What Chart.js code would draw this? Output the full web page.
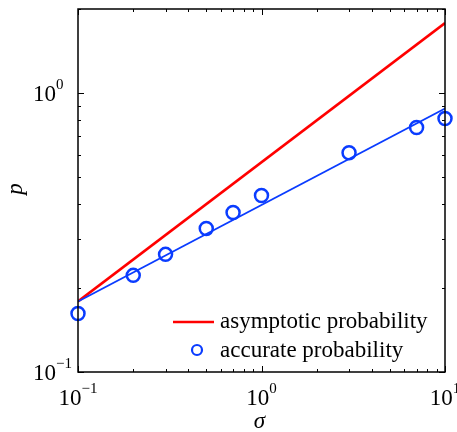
<!DOCTYPE html>
<html lang="en">
<head>
    <meta charset="UTF-8">
    <title>Asymptotic vs accurate probability</title>
    <script src="https://cdn.jsdelivr.net/npm/chart.js"></script>
    <style>
        body {
            margin: 0;
            padding: 0;
            background: white;
        }

        .chart-box {
            width: 457px;
            height: 432px;
        }

        canvas {
            display: block;
        }
    </style>
</head>
<body>

    <div class="chart-box">
        <canvas id="probChart" width="457" height="432"></canvas>
    </div>

    <script>
        // sigma values of the measured points and their probability
        const sigmaPts = [0.1, 0.2, 0.3, 0.5, 0.7, 1, 3, 7, 10];
        const accurateP = [0.162, 0.222, 0.264, 0.327, 0.373, 0.429, 0.611, 0.752, 0.81];

        // straight lines (log-log) between the two ends of the axis
        const lineSigma = [0.1, 10];
        const asymptoticP = [0.179, 1.78];
        const fitP = [0.179, 0.88];

        // axes
        const xRange = [0.1, 10];
        const yRange = [0.1, 2];
        const xDecades = [0.1, 1, 10];
        const yDecades = [0.1, 1];
        const xLabel = 'σ';
        const yLabel = 'p';
        const seriesNames = ['asymptotic probability', 'accurate probability'];

        const RED = '#ff0000';
        const BLUE = '#0a3cff';
        const SERIF = '"Liberation Serif", "Times New Roman", serif';

        const toXY = (xs, ys) => xs.map((x, i) => ({ x: x, y: ys[i] }));

        // minor ticks 2..9 for each decade inside the range
        function logTicks(min, max) {
            const out = [];
            for (let e = Math.floor(Math.log10(min)); e <= Math.ceil(Math.log10(max)); e++) {
                for (let m = 1; m <= 9; m++) {
                    const v = m * Math.pow(10, e);
                    if (v >= min * 0.999 && v <= max * 1.001) out.push({ v: v, major: m === 1 });
                }
            }
            return out;
        }

        function drawPower(ctx, exp, x, y, align) {
            const base = '10';
            const sup = exp < 0 ? '\u2212' + Math.abs(exp) : String(exp);
            ctx.font = '23px ' + SERIF;
            const wb = ctx.measureText(base).width;
            ctx.font = '15px ' + SERIF;
            const ws = ctx.measureText(sup).width;
            let left = x;
            if (align === 'center') left = x - (wb + ws) / 2;
            ctx.textAlign = 'left';
            ctx.textBaseline = 'alphabetic';
            ctx.font = '23px ' + SERIF;
            ctx.fillText(base, left, y);
            ctx.font = '15px ' + SERIF;
            ctx.fillText(sup, left + wb, y - 12);
        }

        // matlab style box, inward ticks, labels and legend
        const matlabAxes = {
            id: 'matlabAxes',
            afterDatasetsDraw(chart) {
                const ctx = chart.ctx;
                const a = chart.chartArea;
                const xs = chart.scales.x;
                const ys = chart.scales.y;
                ctx.save();
                ctx.strokeStyle = '#000';
                ctx.fillStyle = '#000';

                ctx.lineWidth = 1;
                logTicks(xRange[0], xRange[1]).forEach(t => {
                    const px = Math.round(xs.getPixelForValue(t.v)) + 0.5;
                    const len = t.major ? 6 : 3;
                    ctx.beginPath();
                    ctx.moveTo(px, a.bottom); ctx.lineTo(px, a.bottom - len);
                    ctx.moveTo(px, a.top); ctx.lineTo(px, a.top + len);
                    ctx.stroke();
                });
                logTicks(yRange[0], yRange[1]).forEach(t => {
                    const py = Math.round(ys.getPixelForValue(t.v)) + 0.5;
                    const len = t.major ? 6 : 3;
                    ctx.beginPath();
                    ctx.moveTo(a.left, py); ctx.lineTo(a.left + len, py);
                    ctx.moveTo(a.right, py); ctx.lineTo(a.right - len, py);
                    ctx.stroke();
                });

                ctx.lineWidth = 1.5;
                ctx.strokeRect(a.left, a.top, a.right - a.left, a.bottom - a.top);

                // tick labels
                xDecades.forEach(v => {
                    drawPower(ctx, Math.round(Math.log10(v)), xs.getPixelForValue(v), a.bottom + 33, 'center');
                });
                yDecades.forEach(v => {
                    drawPower(ctx, Math.round(Math.log10(v)), 33, ys.getPixelForValue(v) + 8, 'left');
                });

                // axis titles
                ctx.font = 'italic 23px ' + SERIF;
                ctx.textAlign = 'center';
                ctx.textBaseline = 'alphabetic';
                ctx.fillText(xLabel, (a.left + a.right) / 2 - 2, 428);
                ctx.save();
                ctx.translate(22, 189);
                ctx.rotate(-Math.PI / 2);
                ctx.fillText(yLabel, 0, 0);
                ctx.restore();

                // legend
                ctx.font = '23px ' + SERIF;
                ctx.textAlign = 'left';
                ctx.strokeStyle = RED;
                ctx.lineWidth = 2.5;
                ctx.beginPath();
                ctx.moveTo(173, 322); ctx.lineTo(214, 322);
                ctx.stroke();
                ctx.fillText(seriesNames[0], 220, 328);

                ctx.strokeStyle = BLUE;
                ctx.lineWidth = 2.2;
                ctx.beginPath();
                ctx.arc(197, 350, 5, 0, Math.PI * 2);
                ctx.stroke();
                ctx.fillText(seriesNames[1], 220, 357);

                ctx.restore();
            }
        };

        const ctx1 = document.getElementById('probChart').getContext('2d');

        new Chart(ctx1, {
            type: 'scatter',
            data: {
                datasets: [
                    {
                        label: seriesNames[1] + ' fit',
                        data: toXY(lineSigma, fitP),
                        showLine: true,
                        borderColor: BLUE,
                        borderWidth: 1.8,
                        pointRadius: 0
                    },
                    {
                        label: seriesNames[0],
                        data: toXY(lineSigma, asymptoticP),
                        showLine: true,
                        borderColor: RED,
                        borderWidth: 2.6,
                        pointRadius: 0
                    },
                    {
                        label: seriesNames[1],
                        data: toXY(sigmaPts, accurateP),
                        showLine: false,
                        borderColor: BLUE,
                        backgroundColor: 'rgba(0,0,0,0)',
                        pointRadius: 6.5,
                        pointBorderWidth: 2.5,
                        clip: false
                    }
                ]
            },
            options: {
                responsive: false,
                animation: false,
                layout: { padding: { left: 78, right: 12, top: 8, bottom: 60 } },
                scales: {
                    x: { type: 'logarithmic', min: xRange[0], max: xRange[1], display: false },
                    y: { type: 'logarithmic', min: yRange[0], max: yRange[1], display: false }
                },
                plugins: {
                    legend: { display: false },
                    tooltip: { enabled: false }
                }
            },
            plugins: [matlabAxes]
        });
    </script>

</body>
</html>
